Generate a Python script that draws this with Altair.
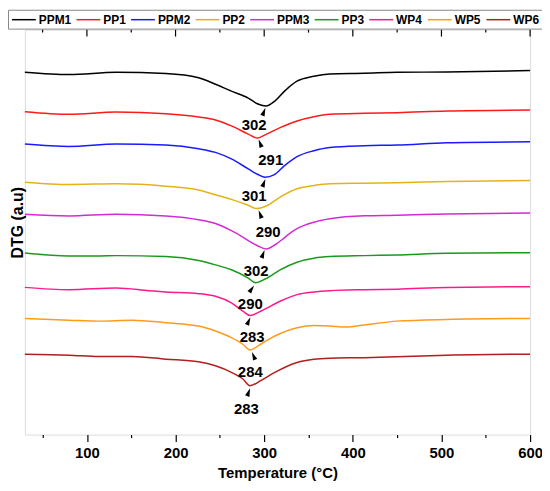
import altair as alt
import pandas as pd

series = ["PPM1", "PP1", "PPM2", "PP2", "PPM3", "PP3", "WP4", "WP5", "WP6"]
colors = ["#000000", "#ff1a1a", "#1a1aff", "#e6b21a", "#d42ad4",
          "#1a991a", "#ff1a8c", "#ff9a1a", "#b31e1e"]

ppm1_t = [30, 80, 133, 189, 226, 245, 263, 282, 293, 302, 312, 323, 337, 356, 374, 413, 450, 506, 600]
ppm1_y = [366, 363.7, 366, 364.7, 360.5, 354, 347, 340, 334, 332, 337, 347, 357, 362, 364.3, 365, 366, 366.3, 367.7]

pp1_t = [30, 80, 133, 189, 226, 245, 263, 282, 292, 301, 318, 337, 356, 374, 413, 450, 506, 600]
pp1_y = [326.3, 323.7, 326, 324.3, 321, 318, 312, 303.7, 299.7, 303, 310.3, 317, 321.3, 323.7, 324.7, 325.3, 327, 328]

ppm2_t = [30, 80, 133, 189, 226, 245, 263, 282, 293, 301, 311, 323, 337, 356, 374, 413, 450, 506, 600]
ppm2_y = [293.7, 291.3, 293.7, 292.7, 289, 285.3, 278.7, 268.7, 263, 260.3, 262.7, 272, 281, 287, 290.3, 292, 292.7, 295, 296]

pp2_t = [30, 80, 133, 189, 226, 245, 263, 282, 291, 304, 318, 337, 356, 374, 413, 450, 506, 600]
pp2_y = [255.3, 253, 253.7, 251.3, 247.5, 242.7, 238, 232, 228.7, 232, 240.3, 248.7, 252, 253.7, 254.3, 254.7, 256, 257]

ppm3_t = [30, 80, 133, 189, 226, 245, 263, 276, 282, 293, 302, 312, 323, 330, 337, 356, 374, 413, 450, 506, 600]
ppm3_y = [223, 221.3, 223, 221.3, 217.5, 213.7, 206.5, 200, 196.5, 191, 188, 192, 199.5, 204.5, 208.5, 215, 218.5, 221.5, 222, 223.3, 224.3]

pp3_t = [30, 80, 114, 133, 189, 226, 245, 263, 282, 290, 301, 318, 337, 356, 374, 413, 450, 506, 600]
pp3_y = [184, 181, 181, 181.3, 180.3, 176.3, 172, 167, 158.7, 154, 157.7, 167, 174.7, 178.7, 180.3, 181.3, 182, 183.7, 184.3]

wp4_t = [30, 80, 133, 170, 189, 226, 245, 263, 276, 284, 296, 318, 337, 356, 374, 413, 450, 506, 600]
wp4_y = [149.3, 147, 148.7, 146, 144.7, 143, 140.3, 133.7, 125.3, 121, 125.3, 135.3, 142, 144.7, 146, 147, 147.5, 149.3, 150]

wp5_t = [30, 80, 114, 151, 189, 226, 245, 263, 276, 284, 296, 312, 337, 356, 374, 393, 413, 450, 506, 600]
wp5_y = [118, 116.3, 115.3, 116.3, 113.7, 110.3, 105.3, 98.7, 92, 86.3, 92, 100.3, 108.7, 111, 110.3, 109.3, 111.5, 115.3, 117, 118]

wp6_t = [30, 80, 114, 151, 189, 226, 245, 263, 276, 284, 296, 312, 337, 356, 374, 413, 450, 506, 600]
wp6_y = [82, 81, 79.7, 79.7, 77, 74.3, 70.3, 63.7, 57, 50.3, 55.3, 63.7, 73.7, 77, 78, 78.5, 79.5, 81, 82]

peak_labels = ["302", "291", "301", "290", "302", "290", "283", "284", "283"]
label_t = [288.7, 307.4, 288.7, 304.4, 290.9, 284.3, 286.4, 284.3, 279.8]
label_y = [313, 277.7, 241.3, 205.3, 165.3, 133, 99, 64.3, 27]

arrow_t = [299.7, 295.4, 299.7, 295.4, 298.8, 285.9, 282.5, 288, 282.5]
arrow_y = [326.3, 294.5, 254.5, 223, 183, 147.8, 115.3, 80.3, 43.7]
arrow_angle = [21, 339, 21, 339, 21, 35, 24, 337, 20]

axis_ticks = [50, 100, 150, 200, 250, 300, 350, 400, 450, 500, 550, 600]
major_ticks = [100, 200, 300, 400, 500, 600]
minor_ticks = [50, 150, 250, 350, 450, 550]

curves = [(ppm1_t, ppm1_y), (pp1_t, pp1_y), (ppm2_t, ppm2_y), (pp2_t, pp2_y),
          (ppm3_t, ppm3_y), (pp3_t, pp3_y), (wp4_t, wp4_y), (wp5_t, wp5_y),
          (wp6_t, wp6_y)]
rows = []
for name, (ts, ys) in zip(series, curves):
    for t, v in zip(ts, ys):
        rows.append({"series": name, "T": t, "DTG": v})
df = pd.DataFrame(rows)

lab_df = pd.DataFrame({"label": peak_labels, "T": label_t, "DTG": label_y})
arr_df = pd.DataFrame({"T": arrow_t, "DTG": arrow_y, "ang": arrow_angle})
major_df = pd.DataFrame({"T": major_ticks})
minor_df = pd.DataFrame({"T": minor_ticks})

FONT = "Liberation Sans"
xscale = alt.Scale(domain=[30, 600], nice=False, zero=False)
yscale = alt.Scale(domain=[1, 409], nice=False, zero=False)

xaxis = alt.Axis(
    title="Temperature (°C)", values=axis_ticks,
    labelExpr="datum.value % 100 === 0 ? datum.label : ''",
    tickSize={"condition": {"test": "datum.value % 100 === 0", "value": 7}, "value": 3},
    tickColor="black", tickWidth=1.2, domain=False, grid=False,
    labelFont=FONT, labelFontSize=15, labelFontWeight="bold", labelColor="black",
    labelPadding=4, labelFlush=False,
    titleFont=FONT, titleFontSize=15, titleFontWeight="bold", titleColor="black",
    titleY=38, titleBaseline="middle",
)
yaxis = alt.Axis(
    title="DTG (a.u)", ticks=False, labels=False, domain=False, grid=False,
    titleFont=FONT, titleFontSize=16, titleFontWeight="bold", titleColor="black",
    titleX=-7, titleY=194, titleAngle=270, titleBaseline="middle", titleAlign="center",
)

lines = alt.Chart(df).mark_line(strokeWidth=1.5, interpolate="monotone").encode(
    x=alt.X("T:Q", scale=xscale, axis=xaxis),
    y=alt.Y("DTG:Q", scale=yscale, axis=yaxis),
    color=alt.Color("series:N", sort=series,
                    scale=alt.Scale(domain=series, range=colors),
                    legend=alt.Legend(
                        orient="none", legendX=-17, legendY=-20, direction="horizontal",
                        title=None, symbolType="M-1,0L3,0", symbolSize=144,
                        symbolStrokeWidth=1.5, labelFont=FONT, labelFontSize=12,
                        labelFontWeight="bold", labelColor="black", labelOffset=14,
                        columnPadding=2, padding=3, strokeColor="#888888",
                    )),
    detail="series:N",
)

texts = alt.Chart(lab_df).mark_text(
    font=FONT, fontSize=15, fontWeight="bold", color="black",
    align="center", baseline="middle",
).encode(
    x=alt.X("T:Q", scale=xscale),
    y=alt.Y("DTG:Q", scale=yscale),
    text="label:N",
)

arrows = alt.Chart(arr_df).mark_point(
    shape="M0,-1L0.55,1L-0.55,1Z", filled=True, color="black", opacity=1,
    size=70, strokeWidth=0,
).encode(
    x=alt.X("T:Q", scale=xscale),
    y=alt.Y("DTG:Q", scale=yscale),
    angle=alt.Angle("ang:Q", scale=None),
)

top_major = alt.Chart(major_df).mark_rule(color="black", strokeWidth=1.2).encode(
    x=alt.X("T:Q", scale=xscale), y=alt.value(0), y2=alt.value(7),
)
top_minor = alt.Chart(minor_df).mark_rule(color="black", strokeWidth=1.2).encode(
    x=alt.X("T:Q", scale=xscale), y=alt.value(0), y2=alt.value(3),
)

chart = alt.layer(lines, texts, arrows, top_major, top_minor).properties(
    width=509, height=408,
    autosize=alt.AutoSizeParams(type="none"),
    padding={"left": 17, "top": 20, "right": 12, "bottom": 46},
).configure_view(
    stroke="black", strokeWidth=1.5,
).configure(background="white")

chart.save("out.html", embed_options={"renderer": "svg", "actions": False})
